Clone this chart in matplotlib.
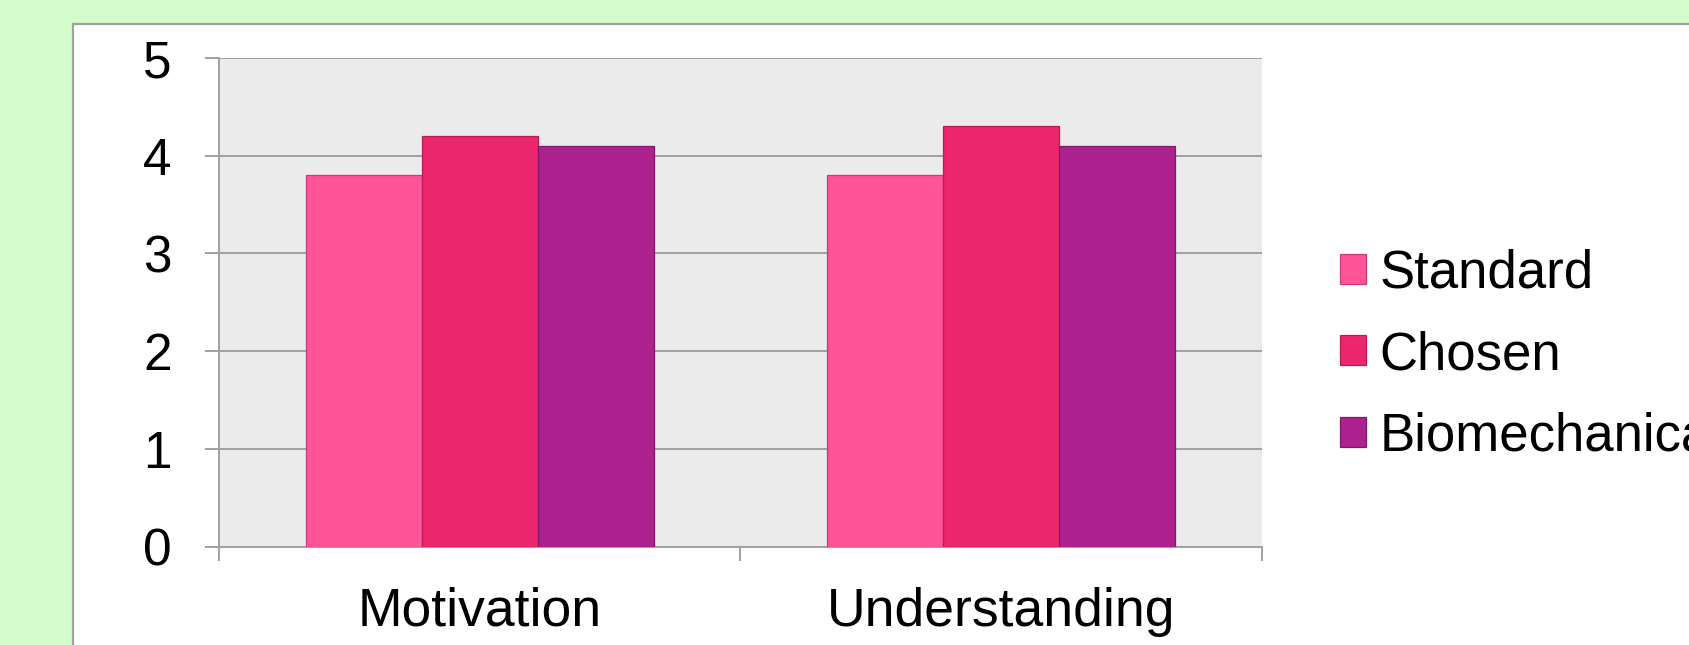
import matplotlib
matplotlib.use("Agg")
import matplotlib.pyplot as plt
from matplotlib.patches import Rectangle
import numpy as np

categories = ["Motivation", "Understanding"]
series_names = ["Standard", "Chosen", "Biomechanical"]
standard = [3.8, 3.8]
chosen = [4.2, 4.3]
biomechanical = [4.1, 4.1]
y_ticks = [0, 1, 2, 3, 4, 5]

face_colors = ["#FF5598", "#EC276D", "#AD228F"]
edge_colors = ["#C83A78", "#B81C55", "#82186C"]

plt.rcParams["font.family"] = ["Liberation Sans", "DejaVu Sans"]

W, H = 1690, 645
fig = plt.figure(figsize=(W / 100, H / 100), dpi=100)
fig.patch.set_facecolor("#D4FDCB")

# white slide panel with a grey border, running off the right and bottom edges
panel = Rectangle((73 / W, -0.1), 1.2, (645 - 24) / H + 0.1, transform=fig.transFigure,
                  facecolor="white", edgecolor="#A0A0A0", linewidth=1.6, zorder=-5)
fig.patches.append(panel)

# heading above the panel, mostly outside the canvas
fig.text(306 / W, (645 + 3) / H, "p", fontsize=40, fontweight="bold",
         ha="left", va="bottom", color="black")

ax = fig.add_axes([219 / W, 98.5 / H, (1262 - 219) / W, (546.5 - 58) / H])
ax.set_zorder(2)
ax.set_facecolor("#EBEBEB")

x = np.arange(len(categories))
width = 2 / 9
for i, (vals, name) in enumerate(zip([standard, chosen, biomechanical], series_names)):
    ax.bar(x + (i - 1) * width, vals, width, color=face_colors[i],
           edgecolor=edge_colors[i], linewidth=0.9, label=name, zorder=3)

ax.set_xlim(-0.5, len(categories) - 0.5)
ax.set_ylim(0, 5)
ax.set_yticks(y_ticks)
ax.set_yticklabels([str(v) for v in y_ticks])
ax.yaxis.grid(True, color="#A0A0A0", linewidth=1.4, zorder=1)
ax.set_axisbelow(True)

ax.set_xticks(np.arange(-0.5, len(categories)))
ax.set_xticklabels([])
ax.set_xticks(x, minor=True)
ax.set_xticklabels(categories, minor=True)
ax.tick_params(axis="x", which="major", length=10, width=1.4, color="#A0A0A0", direction="out")
ax.tick_params(axis="x", which="minor", length=0, labelsize=38.5, pad=29)
ax.tick_params(axis="y", length=10, width=1.4, color="#A0A0A0", direction="out",
               labelsize=37, pad=24)

for side in ["top", "right"]:
    ax.spines[side].set_visible(False)
for side in ["left", "bottom"]:
    ax.spines[side].set_color("#A0A0A0")
    ax.spines[side].set_linewidth(1.4)

leg = ax.legend(loc="center left", bbox_to_anchor=(1340 / W, (645 - 355) / H),
                bbox_transform=fig.transFigure, frameon=False, fontsize=38,
                handlelength=0.5, handleheight=0.5, handletextpad=0.25,
                labelspacing=0.6, borderpad=0, borderaxespad=0)

fig.savefig("out.png", dpi=100, facecolor=fig.get_facecolor())
